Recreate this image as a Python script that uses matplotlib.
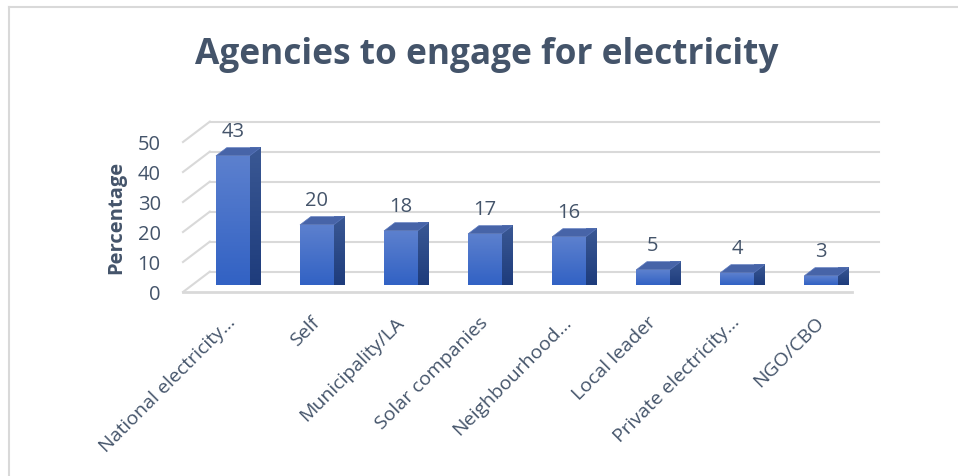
import numpy as np
import matplotlib
matplotlib.use("Agg")
import matplotlib.pyplot as plt
from matplotlib.patches import Polygon
from matplotlib.lines import Line2D
from matplotlib.colors import LinearSegmentedColormap

categories = ['National electricity…', 'Self', 'Municipality/LA', 'Solar companies',
              'Neighbourhood…', 'Local leader', 'Private electricity…', 'NGO/CBO']
values = [43, 20, 18, 17, 16, 5, 4, 3]
yticks = [0, 10, 20, 30, 40, 50]

text_col = '#44546A'
grid_col = '#D9D9D9'
fam = ['Open Sans', 'DejaVu Sans']

plt.rcParams['font.family'] = fam

fig = plt.figure(figsize=(9.58, 4.76), dpi=100)
ax = fig.add_axes([183 / 958, (476 - 292) / 476, 669 / 958, 150 / 476])

x0, x1 = -0.48, 7.48
ax.set_xlim(x0, x1)
ax.set_ylim(0, 50)

# depth of the floor/back wall, in data units
DX, DY = 0.32, 6.8
f_front, f_back = 0.35, 0.75
half_w = 0.2

# back wall gridlines + left wall diagonals
for t in yticks:
    ax.add_line(Line2D([x0 + DX, x1 + DX], [t + DY, t + DY], color=grid_col,
                       lw=1.5, clip_on=False, zorder=1))
    ax.add_line(Line2D([x0, x0 + DX], [t, t + DY], color=grid_col,
                       lw=1.5, clip_on=False, zorder=1))
# front edge of the floor
ax.add_line(Line2D([x0, x1], [0, 0], color=grid_col, lw=2, clip_on=False, zorder=1))

front_cmap = LinearSegmentedColormap.from_list('front', ['#3262C4', '#5C80CE'])
side_cmap = LinearSegmentedColormap.from_list('side', ['#1E3C7C', '#3A5894'])
grad = np.linspace(0, 1, 64).reshape(-1, 1)

for i, v in enumerate(values):
    fx, fy = i + f_front * DX, f_front * DY
    bx, by = i + f_back * DX, f_back * DY
    l, r = fx - half_w, fx + half_w
    sdx, sdy = bx - fx, by - fy
    # side face
    side = Polygon([(r, fy), (r + sdx, fy + sdy), (r + sdx, fy + v + sdy), (r, fy + v)],
                   closed=True, lw=0, zorder=3)
    ax.add_patch(side)
    im = ax.imshow(grad, cmap=side_cmap, origin='lower', aspect='auto',
                   extent=[r, r + sdx, fy, fy + v + sdy], zorder=3, clip_on=False)
    im.set_clip_path(side)
    # top face
    ax.add_patch(Polygon([(l, fy + v), (r, fy + v), (r + sdx, fy + v + sdy),
                          (l + sdx, fy + v + sdy)], closed=True,
                         facecolor='#4764A8', edgecolor='#5B78BC', lw=0.5,
                         zorder=4, clip_on=False))
    # front face
    front = Polygon([(l, fy), (r, fy), (r, fy + v), (l, fy + v)], closed=True,
                    lw=0, zorder=5)
    ax.add_patch(front)
    im = ax.imshow(grad, cmap=front_cmap, origin='lower', aspect='auto',
                   extent=[l, r, fy, fy + v], zorder=5, clip_on=False)
    im.set_clip_path(front)
    ax.annotate(str(v), (fx, fy + v), xytext=(0, 17.5), textcoords='offset points',
                ha='center', va='center', fontsize=14.5, color=text_col)

ax.set_xlim(x0, x1)
ax.set_ylim(0, 50)

for s in ax.spines.values():
    s.set_visible(False)
ax.patch.set_visible(False)

ax.set_yticks(yticks)
ax.set_yticklabels([str(t) for t in yticks], fontsize=14.5, color=text_col)
ax.tick_params(axis='y', length=0, pad=16)

ax.set_xticks([i + f_front * DX for i in range(len(categories))])
ax.set_xticklabels(categories, fontsize=14, color=text_col)
ax.tick_params(axis='x', length=0, pad=20)
for lab in ax.get_xticklabels():
    lab.set_rotation(45)
    lab.set_ha('right')
    lab.set_va('center')
    lab.set_rotation_mode('anchor')

ax.set_ylabel('Percentage', fontsize=14.5, fontweight='bold', color=text_col,
              labelpad=8)

fig.text(487 / 958, 1 - 55 / 476, 'Agencies to engage for electricity',
         ha='center', va='center', fontsize=25.4, fontweight='bold', color=text_col)

# chart area border
fig.add_artist(Line2D([8.5 / 958, 8.5 / 958], [0, 1 - 6.5 / 476], color=grid_col,
                      lw=1.5, transform=fig.transFigure))
fig.add_artist(Line2D([8.5 / 958, 1], [1 - 6.5 / 476, 1 - 6.5 / 476], color=grid_col,
                      lw=1.5, transform=fig.transFigure))

fig.savefig('out.png', dpi=100, facecolor='white')
